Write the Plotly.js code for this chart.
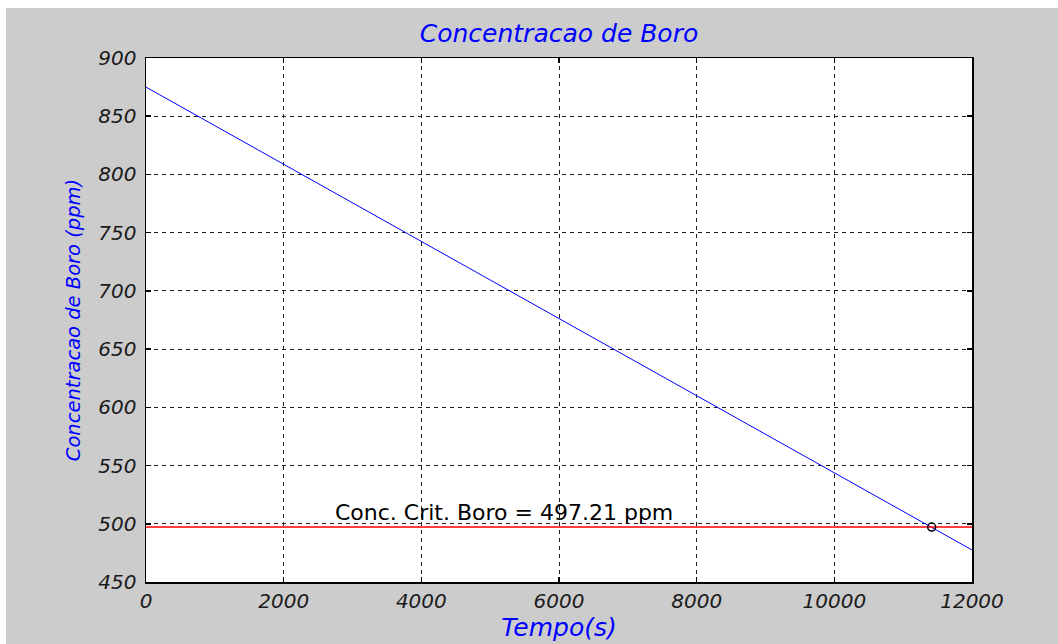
<!DOCTYPE html>
<html>
<head>
<meta charset="utf-8">
<script src="https://cdn.plot.ly/plotly-3.0.1.min.js"></script>
<style>
  html, body { margin: 0; padding: 0; background: #ffffff; }
  #chart { position: absolute; left: 6px; top: 8px; width: 1052px; height: 636px; }
</style>
</head>
<body>
<div id="chart"></div>
<script>
// Data
const tempo = [0, 12000];
const concentracao = [875, 477.5];
const critX = [0, 12000];
const critY = [497.21, 497.21];
const pontoX = [11414];
const pontoY = [497.21];
const critLabel = 'Conc. Crit. Boro = 497.21 ppm';
const xTicks = [0, 2000, 4000, 6000, 8000, 10000, 12000];
const yTicks = [450, 500, 550, 600, 650, 700, 750, 800, 850, 900];

const tickFont = { family: 'DejaVu Sans', size: 20, color: '#1a1a1a', style: 'italic' };

const traces = [
  { x: tempo, y: concentracao, mode: 'lines', line: { color: '#0000ff', width: 1 }, hoverinfo: 'none' },
  { x: critX, y: critY, mode: 'lines', line: { color: '#ff0000', width: 1.6 }, hoverinfo: 'none', cliponaxis: false },
  { x: pontoX, y: pontoY, mode: 'markers', marker: { symbol: 'circle-open', size: 8, color: '#000000', line: { width: 1.5, color: '#000000' } }, hoverinfo: 'none' }
];

const axisCommon = {
  showline: true, linecolor: '#000000', linewidth: 1.5, mirror: 'ticks',
  ticks: 'inside', ticklen: 5, tickwidth: 1.5, tickcolor: '#000000',
  showgrid: true, gridcolor: '#1a1a1a', gridwidth: 1, griddash: '4px,4px',
  zeroline: false, tickfont: tickFont
};

const layout = {
  width: 1052, height: 636,
  paper_bgcolor: '#cccccc', plot_bgcolor: '#ffffff',
  margin: { l: 140, r: 86, t: 50, b: 62 },
  showlegend: false,
  title: {
    text: 'Concentracao de Boro',
    font: { family: 'DejaVu Sans', size: 25, color: '#0000ff', style: 'italic' },
    x: 0.5, xref: 'paper', xanchor: 'center',
    y: 1 - 25 / 636, yref: 'container', yanchor: 'middle'
  },
  xaxis: Object.assign({}, axisCommon, {
    range: [0, 12000], tickvals: xTicks, ticktext: xTicks.map(String), ticklabelstandoff: 0,
    title: { text: 'Tempo(s)', font: { family: 'DejaVu Sans', size: 25, color: '#0000ff', style: 'italic' }, standoff: 5 }
  }),
  yaxis: Object.assign({}, axisCommon, {
    range: [450, 900], tickvals: yTicks, ticktext: yTicks.map(String), ticklabelstandoff: 4,
    title: { text: 'Concentracao de Boro (ppm)', font: { family: 'DejaVu Sans', size: 19.5, color: '#0000ff', style: 'italic' }, standoff: 12 }
  }),
  annotations: [{
    x: 5194, y: 509.5, xref: 'x', yref: 'y', text: critLabel, showarrow: false,
    xanchor: 'center', yanchor: 'middle',
    font: { family: 'DejaVu Sans', size: 22, color: '#000000' }
  }]
};

Plotly.newPlot('chart', traces, layout, { displayModeBar: false, staticPlot: true });
</script>
</body>
</html>
